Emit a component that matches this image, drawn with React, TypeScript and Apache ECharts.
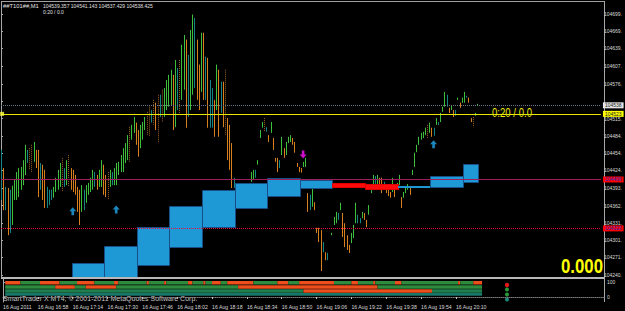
import React, { useEffect, useRef } from 'react';
import * as echarts from 'echarts';

// ---------- header / texts ----------
const symbolName = '##T101##,M1';
const ohlcValues = ['104539.357', '104541.143', '104537.429', '104538.425'];
const timerText = '0:20 / 0.0';
const bigValue = '0.000';
const copyright = 'SmartTrader X MT4, \u00A9 2001-2011 MetaQuotes Software Corp.';

// ---------- price axis (104545 sits under the bid box, so only its tick shows) ----------
const priceTicks = [104699, 104669, 104639, 104607, 104576, 104545, 104515, 104484, 104454, 104424, 104393, 104362, 104331, 104301, 104271, 104240];
const priceTickLabels = ['104699.', '104669.', '104639.', '104607.', '104576.', '', '104515.', '104484.', '104454.', '104424.', '104393.', '104362.', '104331.', '104301.', '104271.', '104240.'];

// ---------- time axis (bar index = minutes from 16:42) ----------
const timeTicks = [0, 16, 32, 48, 64, 80, 96, 112, 128, 144, 160, 176, 192, 208];
const timeLabels = ['16 Aug 2011', '16 Aug 16:58', '16 Aug 17:14', '16 Aug 17:30', '16 Aug 17:46', '16 Aug 18:02', '16 Aug 18:18', '16 Aug 18:34', '16 Aug 18:50', '16 Aug 19:06', '16 Aug 19:22', '16 Aug 19:38', '16 Aug 19:54', '16 Aug 20:10'];

// ---------- M1 bars ----------
const barHigh: (number | null)[] = [
  104460, 104428, 104395, 104393, 104390, 104397, 104407, 104421, 104428, 104430,
  104442, 104469, 104460, 104463, 104469, 104474, 104460, 104460, 104437, 104434,
  104425, 104395, 104390, 104390, 104395, 104411, 104425, 104437, 104446, 104428,
  104442, 104451, 104428, 104425, 104416, 104395, 104390, 104398, 104390, 104398,
  104402, 104411, 104425, 104421, 104416, 104425, 104442, 104434, 104416, 104421,
  104425, 104421, 104428, 104437, 104439, 104451, 104463, 104472, 104486, 104500,
  104504, 104518, 104508, 104495, 104504, 104509, 104518, 104527, 104536, 104530,
  104548, 104543, 104557, 104557, 104566, 104569, 104583, 104592, 104601, 104592,
  104618, 104604, 104618, 104645, 104662, 104654, 104627, 104671, 104698, 104692,
  104654, 104610, 104666, 104666, 104624, 104622, 104583, 104569, 104548, 104610,
  104601, 104580, 104580, 104601, 104516, 104504, 104472, 104411, null, null,
  null, null, null, null, null, 104421, 104425, 104425, 104442, 104495,
  104509, 104516, 104500, 104486, 104509, 104481, 104446, 104446, 104442, 104483,
  104463, 104474, 104483, 104486, 104481, 104474, 104437, 104430, 104428, 104439,
  104446, 104384, 104381, 104393, 104368, 104323, 104323, 104319, 104298, 104280,
  104279, null, 104314, 104342, 104351, 104349, 104367, 104349, 104331, 104310,
  104293, 104314, 104328, 104367, 104346, 104340, 104351, 104349, 104337, 104363,
  104398, 104416, 104414, 104416, 104411, 104411, 104404, 104393, 104390, 104386,
  104411, 104393, 104402, 104416, 104377, 104386, 104395, 104400, 104395, 104425,
  104455, 104469, 104483, 104490, 104492, 104499, 104504, 104508, 104499, 104499,
  104516, 104509, 104525, 104536, 104562, 104557, 104534, 104539, 104530, 104530,
  104552, 104543, 104552, 104562, 104555, 104552, 104516, 104518, 104525, 104541,
];
const barLow: (number | null)[] = [
  104372, 104354, 104354, 104310, 104314, 104328, 104372, 104372, 104377, 104390,
  104398, 104416, 104437, 104425, 104420, 104439, 104428, 104377, 104390, 104372,
  104358, 104358, 104363, 104372, 104376, 104386, 104390, 104395, 104386, 104395,
  104398, 104395, 104390, 104386, 104381, 104351, 104328, 104351, 104354, 104367,
  104381, 104386, 104390, 104395, 104390, 104395, 104395, 104381, 104377, 104372,
  104395, 104398, 104398, 104398, 104416, 104421, 104421, 104437, 104442, 104439,
  104478, 104490, 104469, 104448, 104463, 104478, 104495, 104486, 104483, 104508,
  104504, 104495, 104472, 104518, 104509, 104518, 104530, 104536, 104539, 104495,
  104500, 104530, 104525, 104548, 104566, 104499, 104518, 104530, 104557, 104569,
  104548, 104530, 104562, 104548, 104548, 104499, 104499, 104499, 104483, 104530,
  104483, 104525, 104500, 104486, 104442, 104425, 104393, 104393, null, null,
  null, null, null, null, null, 104404, 104407, 104411, 104434, 104481,
  104499, 104492, 104492, 104474, 104490, 104460, 104439, 104421, 104428, 104451,
  104446, 104451, 104472, 104474, 104469, 104455, 104430, 104421, 104420, 104430,
  104430, 104351, 104354, 104360, 104354, 104314, 104298, 104247, 104280, 104266,
  104266, null, 104310, 104328, 104331, 104337, 104354, 104307, 104289, 104284,
  104279, 104296, 104305, 104331, 104331, 104331, 104340, 104337, 104324, 104346,
  104384, 104395, 104397, 104398, 104390, 104384, 104395, 104384, 104379, 104376,
  104386, 104377, 104390, 104398, 104358, 104376, 104384, 104390, 104381, 104416,
  104430, 104456, 104469, 104478, 104481, 104486, 104481, 104490, 104483, 104485,
  104504, 104504, 104509, 104527, 104536, 104536, 104525, 104530, 104518, 104520,
  104548, 104534, 104543, 104543, 104552, 104543, 104509, 104500, 104520, 104537,
];

// ---------- box indicator (start bar, end bar, top, bottom, kind 0=blue 1=red 2=line) ----------
const boxStart = [32.5, 47.5, 62.5, 77.5, 92.5, 107.5, 122.5, 137.5, 152.5, 167.5, 182.5, 197.5, 212.5];
const boxEnd = [47.5, 62.5, 77.5, 92.5, 107.5, 122.5, 137.5, 152.5, 167.5, 182.5, 197.5, 212.5, 219.5];
const boxTop = [104261, 104291, 104325, 104361, 104390, 104402, 104411, 104407, 104402, 104400, 104397, 104414, 104435];
const boxBottom = [104200, 104200, 104258, 104289, 104325, 104358, 104379, 104393, 104395, 104391, 104395, 104395, 104404];
const boxKind = [0, 0, 0, 0, 0, 0, 0, 0, 1, 1, 2, 0, 0];

// ---------- levels ----------
const bidPrice = 104538.4;
const yellowLevel = 104523.4;
const purpleLevel = 104408;
const redLevel = 104322;

// ---------- arrows ----------
const upArrows = [[33, 104352], [53, 104355], [199, 104470]];
const downArrows = [[139, 104452]];

// ---------- sub window strips: [start, end, state] state 1 = orange, 0 = green ----------
const row1 = [[1, 8, 1], [8, 17, 0], [17, 26, 1], [26, 34, 0], [34, 42, 1], [42, 51, 0], [51, 53, 1], [53, 66, 0], [66, 67, 1], [67, 74, 0], [74, 75, 1], [75, 85, 0], [85, 87, 1], [87, 92, 0], [92, 93, 1], [93, 96, 0], [96, 100, 1], [100, 103, 0], [103, 115, 1], [115, 126, 0], [126, 131, 1], [131, 136, 0], [136, 152, 1], [152, 160, 0], [160, 163, 1], [163, 170, 0], [170, 171, 1], [171, 180, 0], [180, 183, 1], [183, 209, 0], [209, 210, 1], [210, 216, 0], [216, 220, 1]];
const row2 = [[1, 24, 0], [24, 33, 1], [33, 38, 0], [38, 52, 1], [52, 108, 0], [108, 172, 1], [172, 220, 0]];
const row3 = [[1, 138, 0], [138, 197, 1], [197, 220, 0]];
const row4 = [[1, 220, 0]];
const subTicks = [0, 100];

const FONT = 'Liberation Sans, Arial, sans-serif';
const BAR_COLORS = ['#3cc03c', '#d8801e', '#138585', '#9a6020'];
const ROW_BANDS = [[106.7, 83.3], [78, 55.3], [51.3, 28.7], [26.7, 8.7]];
const ROW_GREEN = ['#2e8b3e', '#2e8b3e', '#1f7f4f', '#19766a'];

function buildBars() {
  const out: number[][] = [];
  let prev = -1;
  for (let i = 0; i < barHigh.length; i++) {
    const h = barHigh[i];
    const l = barLow[i];
    if (h == null || l == null) continue;
    let kind = 2;
    if (prev >= 0) {
      const ph = barHigh[prev] as number;
      const pl = barLow[prev] as number;
      if (h > ph && l >= pl) kind = 0;
      else if (l < pl && h <= ph) kind = 1;
      else if (h <= ph && l >= pl) kind = 2;
      else kind = 3;
    }
    out.push([i, h, l, kind]);
    prev = i;
  }
  return out;
}

function buildRows() {
  const out: number[][] = [];
  [row1, row2, row3, row4].forEach((r, ri) => r.forEach((s) => out.push([s[0], s[1], ri, s[2]])));
  return out;
}

export default function App() {
  const ref = useRef<HTMLDivElement>(null);
  useEffect(() => {
    const chart = echarts.init(ref.current as HTMLDivElement, undefined, { renderer: 'svg' });
    const bars = buildBars();
    const boxes = boxStart.map((s, i) => [s, boxEnd[i], boxTop[i], boxBottom[i], boxKind[i]]);
    const rows = buildRows();
    const mlLabel = (text: string, bg: string, fg: string) => ({
      show: true, formatter: text, position: 'end', distance: 2, backgroundColor: bg, color: fg,
      fontSize: 5, fontFamily: FONT, padding: [1, 2, 0, 2],
    });
    const option: any = {
      animation: false,
      backgroundColor: '#000000',
      textStyle: { fontFamily: FONT },
      grid: [
        { left: 1, top: 2, width: 603, height: 275, show: false },
        { left: 1, top: 279, width: 603, height: 23, show: false },
      ],
      xAxis: [
        { type: 'value', gridIndex: 0, min: 0, max: 276, show: false },
        {
          type: 'value', gridIndex: 1, min: 0, max: 276,
          axisLine: { show: true, lineStyle: { color: '#7a7a7a', type: 'dotted', width: 1 } },
          axisTick: { show: true, length: 2, customValues: timeTicks, lineStyle: { color: '#c0c0c0' } },
          splitLine: { show: false },
          axisLabel: {
            customValues: timeTicks, align: 'left', margin: 2, fontSize: 5.2, color: '#d8d8d8', fontFamily: FONT,
            formatter: (v: number) => { const k = timeTicks.indexOf(v); return k >= 0 ? timeLabels[k] : ''; },
          },
        },
      ],
      yAxis: [
        {
          type: 'value', gridIndex: 0, position: 'right', min: 104236.5, max: 104720.1,
          axisLine: { show: true, lineStyle: { color: '#a8a8a8' } },
          axisTick: { show: true, length: 2, customValues: priceTicks, lineStyle: { color: '#a8a8a8' } },
          splitLine: { show: false },
          axisLabel: {
            customValues: priceTicks, margin: 3, fontSize: 5, color: '#d8d8d8', fontFamily: FONT,
            formatter: (v: number) => { const k = priceTicks.indexOf(v); return k >= 0 ? priceTickLabels[k] : ''; },
          },
        },
        {
          type: 'value', gridIndex: 1, position: 'right', min: -33.3, max: 120,
          axisLine: { show: true, lineStyle: { color: '#a8a8a8' } },
          axisTick: { show: true, length: 2, customValues: subTicks, lineStyle: { color: '#a8a8a8' } },
          splitLine: { show: false },
          axisLabel: { customValues: subTicks, margin: 3, fontSize: 5, color: '#d8d8d8', fontFamily: FONT },
        },
      ],
      series: [
        {
          type: 'custom', xAxisIndex: 0, yAxisIndex: 0, clip: true, silent: true, z: 2,
          encode: { x: 0, y: [1, 2] },
          data: bars,
          renderItem: (_p: any, api: any) => {
            const i = api.value(0);
            const t = api.coord([i, api.value(1)]);
            const b = api.coord([i, api.value(2)]);
            const kind = api.value(3);
            const x = Math.round(t[0]) + 0.5;
            return {
              type: 'line',
              shape: { x1: x, y1: t[1], x2: x, y2: Math.max(b[1], t[1] + 1.5) },
              style: { stroke: BAR_COLORS[kind], lineWidth: 1, lineDash: kind === 3 ? [1, 1] : null },
            };
          },
        },
        {
          type: 'custom', xAxisIndex: 0, yAxisIndex: 0, clip: true, silent: true, z: 3,
          encode: { x: [0, 1], y: [2, 3] },
          data: boxes,
          renderItem: (params: any, api: any) => {
            const p1 = api.coord([api.value(0), api.value(2)]);
            const p2 = api.coord([api.value(1), api.value(3)]);
            const k = api.value(4);
            const cs = params.coordSys;
            const x1 = Math.round(p1[0]);
            const x2 = Math.round(p2[0]);
            const y1 = Math.round(p1[1]);
            const y2 = Math.min(Math.round(p2[1]), cs.y + cs.height);
            if (k === 2) {
              return { type: 'rect', shape: { x: x1, y: y1, width: x2 - x1, height: 2 }, style: { fill: '#1e96d6' } };
            }
            return {
              type: 'rect',
              shape: { x: x1 + 0.5, y: y1 + 0.5, width: x2 - x1, height: y2 - y1 },
              style: { fill: k === 1 ? '#ff0a0a' : '#1f98d6', stroke: k === 1 ? '#e00000' : '#174f86', lineWidth: 1 },
            };
          },
        },
        {
          type: 'line', xAxisIndex: 0, yAxisIndex: 0, data: [], silent: true, z: 4,
          markLine: {
            symbol: 'none', silent: true, animation: false,
            data: [
              { yAxis: bidPrice, lineStyle: { color: '#667788', type: 'dotted', width: 1 }, label: mlLabel('104538', '#e6e6e6', '#202020') },
              { yAxis: yellowLevel, lineStyle: { color: '#e8e800', type: 'solid', width: 1 }, label: mlLabel('104523', '#ffff00', '#202020') },
              { yAxis: purpleLevel, lineStyle: { color: '#9a1f5c', type: 'solid', width: 1 }, label: mlLabel('104408', '#ff0000', '#2030c0') },
              { yAxis: redLevel, lineStyle: { color: '#e8103a', type: 'dotted', width: 1 }, label: mlLabel('104322', '#ff0000', '#2030c0') },
            ],
          },
        },
        {
          type: 'scatter', xAxisIndex: 0, yAxisIndex: 0, silent: true, z: 5,
          symbol: 'path://M4,0 L8,4 L5.5,4 L5.5,8 L2.5,8 L2.5,4 L0,4 Z', symbolSize: [7, 8],
          itemStyle: { color: '#22a8ea' }, data: upArrows,
        },
        {
          type: 'scatter', xAxisIndex: 0, yAxisIndex: 0, silent: true, z: 5,
          symbol: 'path://M2.5,0 L5.5,0 L5.5,4 L8,4 L4,8 L0,4 L2.5,4 Z', symbolSize: [7, 8],
          itemStyle: { color: '#ff10ff' }, data: downArrows,
        },
        {
          type: 'scatter', xAxisIndex: 0, yAxisIndex: 0, silent: true, z: 5,
          symbol: 'rect', symbolSize: [4, 4], itemStyle: { color: '#ffff40' }, data: [[0.5, yellowLevel]],
        },
        {
          type: 'custom', xAxisIndex: 1, yAxisIndex: 1, clip: true, silent: true,
          encode: { x: [0, 1], y: 2 },
          data: rows,
          renderItem: (_p: any, api: any) => {
            const r = api.value(2);
            const band = ROW_BANDS[r];
            const p1 = api.coord([api.value(0), band[0]]);
            const p2 = api.coord([api.value(1), band[1]]);
            const st = api.value(3);
            return {
              type: 'rect',
              shape: { x: p1[0], y: p1[1], width: p2[0] - p1[0], height: p2[1] - p1[1] },
              style: { fill: st === 1 ? '#ec4e1c' : ROW_GREEN[r] },
            };
          },
        },
      ],
      graphic: [
        { type: 'line', silent: true, shape: { x1: 1.5, y1: 1, x2: 1.5, y2: 277 }, style: { stroke: '#a0a0a0', lineWidth: 1 } },
        { type: 'line', silent: true, shape: { x1: 1, y1: 1.5, x2: 605, y2: 1.5 }, style: { stroke: '#a0a0a0', lineWidth: 1 } },
        { type: 'line', silent: true, shape: { x1: 1, y1: 278, x2: 605, y2: 278 }, style: { stroke: '#b8b8b8', lineWidth: 2 } },
        { type: 'line', silent: true, shape: { x1: 604.5, y1: 1, x2: 604.5, y2: 302 }, style: { stroke: '#a8a8a8', lineWidth: 1 } },
        { type: 'text', silent: true, x: 3, y: 2.5, style: { text: symbolName, fill: '#e0e0e0', fontSize: 5.8, fontFamily: FONT, verticalAlign: 'top' } },
        { type: 'text', silent: true, x: 43, y: 3, style: { text: ohlcValues.join(' '), fill: '#e0e0e0', fontSize: 5, fontFamily: FONT, verticalAlign: 'top' } },
        { type: 'text', silent: true, x: 43, y: 9, style: { text: timerText, fill: '#e0e0e0', fontSize: 5, fontFamily: FONT, verticalAlign: 'top' } },
        { type: 'text', silent: true, x: 492, y: 106.5, scaleX: 0.8, style: { text: timerText, fill: '#eaea10', fontSize: 12, fontFamily: FONT, verticalAlign: 'top' } },
        { type: 'text', silent: true, x: 561, y: 255, scaleX: 0.8, style: { text: bigValue, fill: '#ffff00', fontSize: 21, fontWeight: 'bold', fontFamily: FONT, verticalAlign: 'top' } },
        { type: 'text', silent: true, x: 3, y: 294.5, style: { text: copyright, fill: '#c8c8c8', fontSize: 7, fontFamily: FONT, verticalAlign: 'top' } },
        { type: 'circle', silent: true, shape: { cx: 507, cy: 285, r: 2.2 }, style: { fill: '#e01818' } },
        { type: 'circle', silent: true, shape: { cx: 507, cy: 289.5, r: 2 }, style: { fill: '#2a9a3a' } },
        { type: 'circle', silent: true, shape: { cx: 507, cy: 294.5, r: 2 }, style: { fill: '#2a9a3a' } },
        { type: 'circle', silent: true, shape: { cx: 507, cy: 299.5, r: 2 }, style: { fill: '#1a8a7a' } },
      ],
    };
    chart.setOption(option);
    return () => chart.dispose();
  }, []);
  return <div ref={ref} style={{ width: 625, height: 311, position: 'absolute', left: 0, top: 0 }} />;
}
